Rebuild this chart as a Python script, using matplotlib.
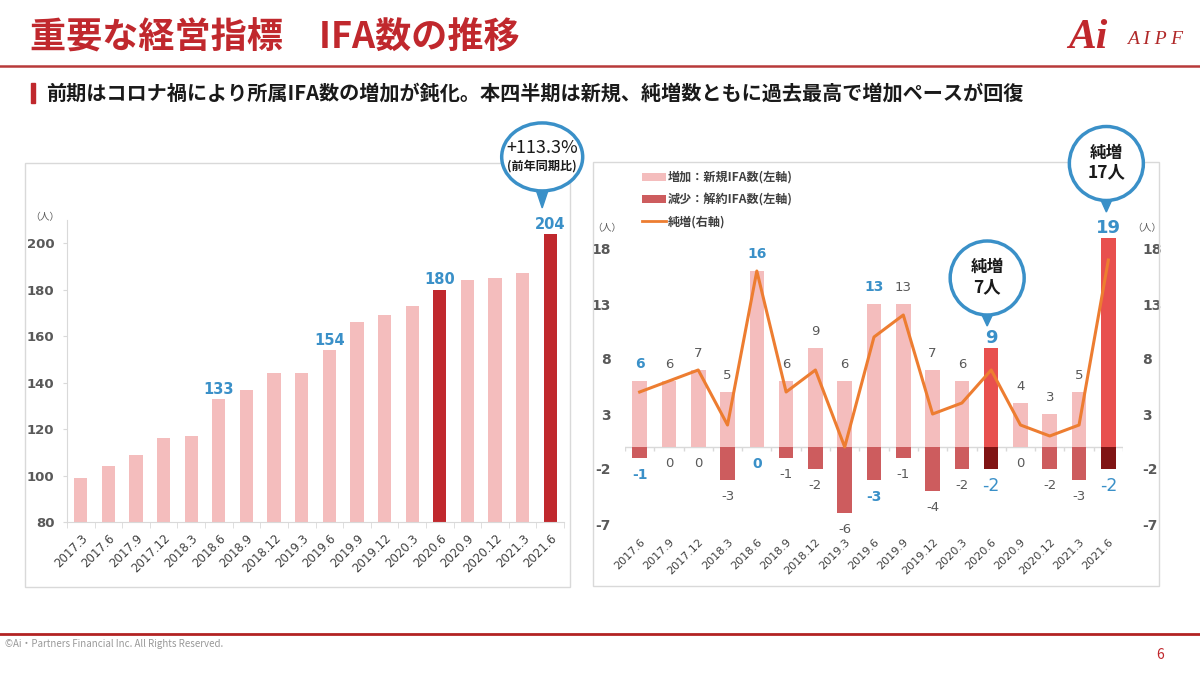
import matplotlib
matplotlib.use("Agg")
import matplotlib.pyplot as plt
import numpy as np
from matplotlib.patches import Ellipse, Polygon, Rectangle, Patch
from matplotlib.lines import Line2D

plt.rcParams['font.family'] = ['Noto Sans CJK JP', 'DejaVu Sans']
plt.rcParams['axes.unicode_minus'] = False

# ---- data ----
total_quarters = ["2017.3", "2017.6", "2017.9", "2017.12", "2018.3", "2018.6",
                  "2018.9", "2018.12", "2019.3", "2019.6", "2019.9", "2019.12",
                  "2020.3", "2020.6", "2020.9", "2020.12", "2021.3", "2021.6"]
total_ifa = [99, 104, 109, 116, 117, 133, 137, 144, 144, 154, 166, 169,
             173, 180, 184, 185, 187, 204]
total_highlight = ["2020.6", "2021.6"]
total_labelled = ["2018.6", "2019.6", "2020.6", "2021.6"]

flow_quarters = total_quarters[1:]
new_ifa = [6, 6, 7, 5, 16, 6, 9, 6, 13, 13, 7, 6, 9, 4, 3, 5, 19]
cancel_ifa = [-1, 0, 0, -3, 0, -1, -2, -6, -3, -1, -4, -2, -2, 0, -2, -3, -2]
net_ifa = [5, 6, 7, 2, 16, 5, 7, 0, 10, 12, 3, 4, 7, 2, 1, 2, 17]
flow_highlight = ["2020.6", "2021.6"]
flow_blue = ["2017.6", "2018.6", "2019.6", "2020.6", "2021.6"]

# ---- styles ----
W, H = 1200, 676
RED = "#C0282D"
BLUE = "#3A90C8"
PINK = "#F4BDBD"
GRID = "#D9D9D9"
TICK = "#595959"
NUM = "DejaVu Sans"

fig = plt.figure(figsize=(12, 6.76), dpi=100)


def px_axes(x0, y0, x1, y1):
    return fig.add_axes([x0 / W, 1 - y1 / H, (x1 - x0) / W, (y1 - y0) / H])


def to_px(ax, x, y):
    dx, dy = ax.transData.transform((x, y))
    return dx, H - dy


# ---- left chart: total IFA ----
ax1 = px_axes(67, 220, 564, 522)
ax1.set_facecolor("none")
x1 = np.arange(len(total_quarters))
colors1 = [RED if q in total_highlight else PINK for q in total_quarters]
ax1.bar(x1, total_ifa, width=0.48, color=colors1, zorder=2)
ax1.set_xlim(-0.5, len(total_quarters) - 0.5)
ax1.set_ylim(80, 210)
for s in ["top", "right"]:
    ax1.spines[s].set_visible(False)
for s in ["left", "bottom"]:
    ax1.spines[s].set_color(GRID)
ax1.set_xticks(x1)
ax1.set_xticklabels(total_quarters, rotation=45, ha="right",
                    rotation_mode="anchor", fontsize=8.5, color="#404040")
ax1.set_xticks(np.arange(-0.5, len(total_quarters), 1), minor=True)
ax1.tick_params(axis="x", which="major", length=0, pad=7)
ax1.tick_params(axis="x", which="minor", length=4, color=GRID)
ax1.set_yticks(range(80, 201, 20))
ax1.tick_params(axis="y", length=3, color=GRID, pad=6, labelsize=9.5,
                labelcolor=TICK)
for t in ax1.get_yticklabels():
    t.set_fontweight("bold")

for i, (q, v) in enumerate(zip(total_quarters, total_ifa)):
    if q in total_labelled:
        ax1.annotate(str(v), (i, v), xytext=(0, 7), textcoords="offset points",
                     ha="center", va="center", fontsize=10.5,
                     fontweight="bold", color=BLUE, family=NUM)

# ---- right chart: new / cancel / net ----
ax2 = px_axes(625, 227, 1123, 524)
ax2.set_facecolor("none")
x2 = np.arange(len(flow_quarters))
new_colors = ["#E8504E" if q in flow_highlight else PINK for q in flow_quarters]
cancel_colors = ["#801414" if q in flow_highlight else "#CD5C5E" for q in flow_quarters]
ax2.bar(x2, new_ifa, width=0.5, color=new_colors, zorder=2)
ax2.bar(x2, cancel_ifa, width=0.5, color=cancel_colors, zorder=2)
ax2.axhline(0, color=GRID, lw=1, zorder=1)
ax2.vlines(np.arange(-0.5, len(flow_quarters), 1), -0.35, 0, color=GRID,
           lw=1, zorder=1)
ax2.set_xlim(-0.5, len(flow_quarters) - 0.5)
ax2.set_ylim(-7, 20)
for s in ax2.spines.values():
    s.set_visible(False)
yt = [-7, -2, 3, 8, 13, 18]
ax2.set_yticks(yt)
ax2.tick_params(axis="y", length=0, pad=10)
ax2.set_xticks(x2)
ax2.set_xticklabels(flow_quarters, rotation=45, ha="right",
                    rotation_mode="anchor", fontsize=8, color="#404040")
ax2.tick_params(axis="x", length=0, pad=9)

ax3 = ax2.twinx()
ax3.set_ylim(-7, 20)
ax3.set_yticks(yt)
ax3.tick_params(axis="y", length=0, pad=14)
for s in ax3.spines.values():
    s.set_visible(False)
ax3.plot(x2, net_ifa, color="#ED7D31", lw=2.2, zorder=3)

for a in (ax2, ax3):
    a.tick_params(axis="y", labelsize=10, labelcolor=TICK)
    for t in a.get_yticklabels():
        t.set_fontweight("bold")

# tick labels in a Verdana-like face
for a in (ax1, ax2, ax3):
    for t in a.get_xticklabels() + a.get_yticklabels():
        t.set_fontfamily(NUM)

for i, q in enumerate(flow_quarters):
    n, c = new_ifa[i], cancel_ifa[i]
    off_up, off_dn = 12, -12
    if q in flow_highlight:
        up = dict(fontsize=13, fontweight="bold", color=BLUE)
        dn = dict(fontsize=12.5, color=BLUE)
        off_up = 7
    elif q in flow_blue:
        up = dict(fontsize=10, fontweight="bold", color=BLUE)
        dn = dict(fontsize=10, fontweight="bold", color=BLUE)
    else:
        up = dict(fontsize=9.5, color=TICK)
        dn = dict(fontsize=9.5, color=TICK)
    ax2.annotate(str(n), (i, n), xytext=(0, off_up), textcoords="offset points",
                 ha="center", va="center", family=NUM, zorder=4, **up)
    ax2.annotate(str(c), (i, c), xytext=(0, off_dn), textcoords="offset points",
                 ha="center", va="center", family=NUM, zorder=4, **dn)

handles = [Patch(fc=PINK, ec="none"), Patch(fc="#CD5C5E", ec="none"),
           Line2D([], [], color="#ED7D31", lw=2)]
leg = fig.legend(handles, ["増加：新規IFA数(左軸)", "減少：解約IFA数(左軸)", "純増(右軸)"],
                 loc="upper left", bbox_to_anchor=(642 / W, 1 - 171 / H),
                 frameon=False, prop={"weight": "bold", "size": 8.7},
                 handlelength=2.0, handletextpad=0.15, labelspacing=0.75,
                 borderaxespad=0, borderpad=0)
for t in leg.get_texts():
    t.set_color("#404040")

# ---- overlay in pixel coordinates ----
ov = fig.add_axes([0, 0, 1, 1])
ov.set_xlim(0, W)
ov.set_ylim(H, 0)
ov.axis("off")
ov.patch.set_alpha(0)
ov.set_zorder(5)

# chart frames
ov.add_patch(Rectangle((25, 163), 545, 424, fill=False, ec=GRID, lw=1))
ov.add_patch(Rectangle((593, 162), 566, 424, fill=False, ec=GRID, lw=1))

# header
ov.text(30, 38, "重要な経営指標　IFA数の推移", fontsize=26, fontweight="bold",
        color=RED, va="center")
ov.plot([0, W], [66, 66], color="#B83A3A", lw=1.8)
ov.add_patch(Rectangle((31, 83), 4, 20, color=RED))
ov.text(46, 93, "前期はコロナ禍により所属IFA数の増加が鈍化。本四半期は新規、純増数ともに過去最高で増加ペースが回復",
        fontsize=14.5, fontweight="bold", color="#1a1a1a", va="center")
ov.text(1088, 38, "Ai", fontsize=30, style="italic", fontweight="bold",
        family=["Liberation Serif", "DejaVu Serif"], color=RED,
        ha="center", va="center")
ov.text(1155, 40, "A I P F", fontsize=14, style="italic",
        family=["Liberation Serif", "DejaVu Serif"], color="#B02828",
        ha="center", va="center")

# footer
ov.plot([0, W], [634, 634], color="#B22222", lw=2)
ov.text(5, 644, "©Ai・Partners Financial Inc. All Rights Reserved.", fontsize=7,
        color="#999999", va="center",
        family=["Liberation Sans Narrow", "Noto Sans CJK JP"])
ov.text(1160, 655, "6", fontsize=10, color=RED, ha="center", va="center")

# unit labels
ov.text(45, 217, "（人）", fontsize=7, color=TICK, ha="center", va="center")
ov.text(607, 228, "（人）", fontsize=7, color=TICK, ha="center", va="center")
ov.text(1147, 228, "（人）", fontsize=7, color=TICK, ha="center", va="center")


def callout(cx, tip_y, rx, ry, lift, lines):
    cy = tip_y - lift
    ov.add_patch(Polygon([(cx - 7, cy + ry - 4), (cx + 7, cy + ry - 4),
                          (cx, tip_y)], closed=True, color=BLUE, zorder=2))
    ov.add_patch(Ellipse((cx, cy), 2 * rx, 2 * ry, fc="white", ec=BLUE,
                         lw=2.5, zorder=3))
    for dy, txt, kw in lines:
        ov.text(cx, cy + dy, txt, ha="center", va="center", zorder=4, **kw)


bx, by = to_px(ax1, total_quarters.index("2021.6"), total_ifa[-1])
callout(bx - 8, by - 26, 40.5, 34, 51,
        [(-9, "+113.3%", dict(fontsize=13, color="#1a1a1a")),
         (9, "(前年同期比)", dict(fontsize=8.7, fontweight="bold", color="#1a1a1a"))])

i7 = flow_quarters.index("2020.6")
bx, by = to_px(ax2, i7, new_ifa[i7])
callout(bx - 4, by - 22, 37, 37, 48,
        [(-11, "純増", dict(fontsize=12, fontweight="bold", color="#1a1a1a")),
         (9, "7人", dict(fontsize=12.5, fontweight="bold", color="#1a1a1a"))])

i17 = flow_quarters.index("2021.6")
bx, by = to_px(ax2, i17, new_ifa[i17])
callout(bx - 2, by - 26, 37, 37, 48.5,
        [(-11, "純増", dict(fontsize=12, fontweight="bold", color="#1a1a1a")),
         (9, "17人", dict(fontsize=12.5, fontweight="bold", color="#1a1a1a"))])

fig.savefig("out.png", dpi=100)
plt.close(fig)
